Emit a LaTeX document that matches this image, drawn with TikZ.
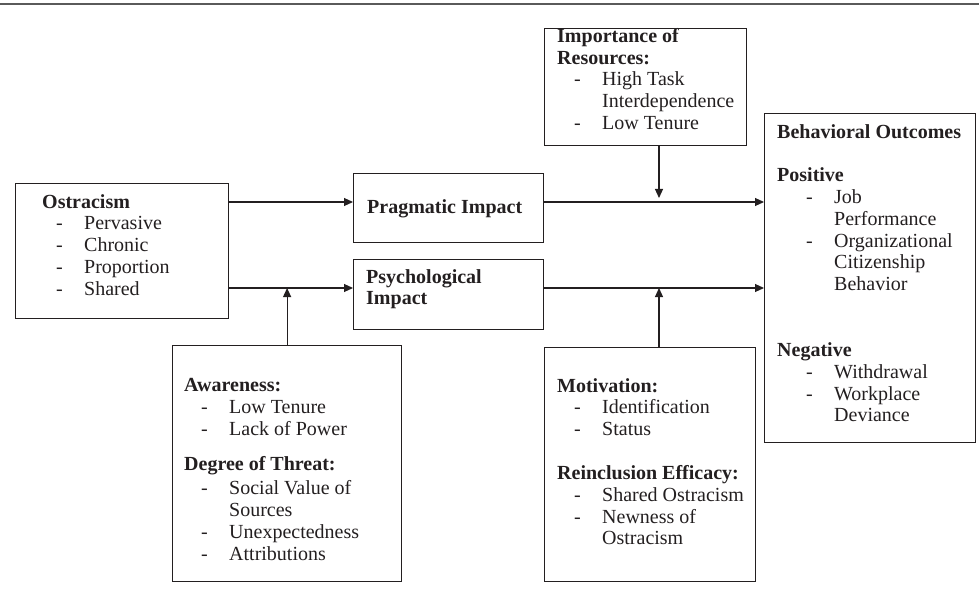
\documentclass[tikz,border=0pt]{standalone}
\usepackage{fontspec}
\setmainfont{Liberation Serif}
\usepackage{tikz}
\usetikzlibrary{arrows.meta,calc,positioning}
\definecolor{lcolor}{RGB}{35,31,32}
\definecolor{rcolor}{RGB}{90,90,90}

\newcommand{\hd}[1]{\textbf{#1}}
\newcommand{\dashitem}[2][17pt]{\hspace*{#1}\makebox[28pt][l]{-}#2}
\newcommand{\contitem}[2][17pt]{\hspace*{#1}\hspace*{28pt}#2}

\begin{document}
\begin{tikzpicture}[x=1pt,y=-1pt,
  box/.style={draw=lcolor,line width=1.2pt,rectangle,inner sep=0pt,anchor=north west},
  % first line carries a 16pt strut, so north west sits 16pt above its baseline
  txt/.style={anchor=north west,align=left,inner sep=0pt,text=lcolor,
    font=\fontsize{20}{21.8}\selectfont,execute at begin node={\rule{0pt}{16pt}}},
  arr/.style={draw=lcolor,line width=1.1pt,-{Triangle[length=9pt,width=8pt]}}]
  \useasboundingbox (0,0) rectangle (979,604);
  \draw[rcolor,line width=2pt] (0,4) -- (979,4);

  % arrow rows and the moderator column
  \coordinate (row1) at (0,202);
  \coordinate (row2) at (0,288);
  \coordinate (col) at (659,0);

  % boxes
  \node[box,minimum width=213pt,minimum height=135pt] (ostr) at (15,183) {};
  \node[box,minimum width=190pt,minimum height=69pt] (prag) at (353,173) {};
  \node[box,minimum width=190pt,minimum height=70pt] (psych) at (353,259) {};
  \node[box,minimum width=202pt,minimum height=117pt] (imp) at (544,28) {};
  \node[box,minimum width=211pt,minimum height=329pt] (beh) at (764,113) {};
  \node[box,minimum width=229pt,minimum height=236pt] (awr) at (172,345) {};
  \node[box,minimum width=211pt,minimum height=234pt] (mot) at (544,347) {};

  % texts
  \node[txt] (ostr-t) at ($(ostr.north west)+(27,11)$)
    {\hd{Ostracism}\\
     \dashitem[14pt]{Pervasive}\\
     \dashitem[14pt]{Chronic}\\
     \dashitem[14pt]{Proportion}\\
     \dashitem[14pt]{Shared}};
  \node[txt] (prag-t) at ($(prag.north west)+(14,24)$) {\hd{Pragmatic Impact}};
  \node[txt] (psych-t) at ($(psych.north west)+(13,10)$)
    {\hd{Psychological}\\ \hd{Impact}};
  \node[txt] (imp-t) at ($(imp.north west)+(13,0)$)
    {\hd{Importance of}\\
     \hd{Resources:}\\
     \dashitem{High Task}\\
     \contitem{Interdependence}\\
     \dashitem{Low Tenure}};
  \node[txt] (beh-t) at ($(beh.north west)+(13,11)$)
    {\hd{Behavioral Outcomes}\\[21.8pt]
     \hd{Positive}\\
     \dashitem[29pt]{Job}\\
     \contitem[29pt]{Performance}\\
     \dashitem[29pt]{Organizational}\\
     \contitem[29pt]{Citizenship}\\
     \contitem[29pt]{Behavior}\\[44pt]
     \hd{Negative}\\
     \dashitem[29pt]{Withdrawal}\\
     \dashitem[29pt]{Workplace}\\
     \contitem[29pt]{Deviance}};
  \node[txt] (awr-t) at ($(awr.north west)+(12,33)$)
    {\hd{Awareness:}\\
     \dashitem{Low Tenure}\\
     \dashitem{Lack of Power}\\[14pt]
     \hd{Degree of Threat:}\\[2pt]
     \dashitem{Social Value of}\\
     \contitem{Sources}\\
     \dashitem{Unexpectedness}\\
     \dashitem{Attributions}};
  \node[txt] (mot-t) at ($(mot.north west)+(13,31)$)
    {\hd{Motivation:}\\
     \dashitem{Identification}\\
     \dashitem{Status}\\[22pt]
     \hd{Reinclusion Efficacy:}\\
     \dashitem{Shared Ostracism}\\
     \dashitem{Newness of}\\
     \contitem{Ostracism}};

  % connectors
  \draw[arr] (ostr.east |- row1) -- (prag.west |- row1);
  \draw[arr] (ostr.east |- row2) -- (psych.west |- row2);
  \draw[arr] (prag.east |- row1) -- (beh.west |- row1);
  \draw[arr] (psych.east |- row2) -- (beh.west |- row2);
  \draw[arr,shorten >=4pt] (imp.south -| col) -- (col |- row1);
  \draw[arr] (awr.north) -- (awr.north |- row2);
  \draw[arr] (mot.north -| col) -- (col |- row2);
\end{tikzpicture}
\end{document}
